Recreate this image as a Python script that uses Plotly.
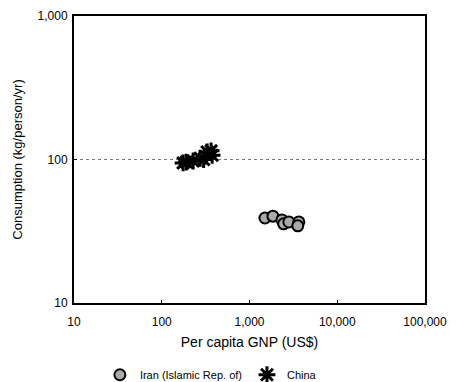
import plotly.graph_objects as go

# Per capita GNP (US$) and consumption (kg/person/yr)
iran_gnp = [1500, 1850, 2340, 2450, 2810, 3650, 3550]
iran_cons = [39.1, 40.3, 37.9, 35.6, 36.7, 36.7, 34.5]

china_gnp = [175, 190, 228, 274, 300, 329, 365, 375]
china_cons = [94.6, 96.0, 97.6, 102, 100, 112.8, 115, 107]

x_ticks = [10, 100, 1000, 10000, 100000]
x_labels = ["10", "100", "1,000", "10,000", "100,000"]
y_ticks = [10, 100, 1000]
y_labels = ["10", "100", "1,000"]
reference_level = 100

font = "Liberation Sans, Arial, sans-serif"

fig = go.Figure()

fig.add_trace(go.Scatter(
    x=iran_gnp, y=iran_cons, mode="markers", name="Iran (Islamic Rep. of)",
    marker=dict(symbol="circle", size=11, color="#aaaaaa",
                line=dict(color="black", width=2)),
))
fig.add_trace(go.Scatter(
    x=china_gnp, y=china_cons, mode="markers", name="China",
    marker=dict(symbol="asterisk-open", size=14, color="black",
                line=dict(color="black", width=3)),
))

# dotted reference line at 100 kg/person/yr
fig.add_shape(type="line", xref="paper", x0=0, x1=1, yref="y",
              y0=reference_level, y1=reference_level,
              line=dict(color="#777777", width=1, dash="dot"), layer="below")

fig.update_layout(
    width=462, height=382,
    margin=dict(l=74, r=37, t=16, b=79, autoexpand=False),
    paper_bgcolor="white", plot_bgcolor="white",
    font=dict(family=font, size=12, color="black"),
    showlegend=True,
    legend=dict(orientation="h", x=0.39, xanchor="center", y=-0.25,
                yanchor="middle", font=dict(size=11), itemwidth=30,
                tracegroupgap=0, bgcolor="rgba(0,0,0,0)"),
)
fig.update_xaxes(
    type="log", range=[1, 5], tickvals=x_ticks, ticktext=x_labels,
    showgrid=False, zeroline=False, showline=True, linecolor="black",
    linewidth=2, mirror=True, ticks="inside", ticklen=3, tickcolor="black",
    tickfont=dict(size=12), ticklabelstandoff=7,
    title=dict(text="Per capita GNP (US$)", font=dict(size=14), standoff=9),
)
fig.update_yaxes(
    type="log", range=[1, 3], tickvals=y_ticks, ticktext=y_labels,
    showgrid=False, zeroline=False, showline=True, linecolor="black",
    linewidth=2, mirror=True, ticks="inside", ticklen=3, tickcolor="black",
    tickfont=dict(size=12), ticklabelstandoff=2,
    title=dict(text="Consumption (kg/person/yr)", font=dict(size=13), standoff=12),
)

fig.write_html("out.html")
